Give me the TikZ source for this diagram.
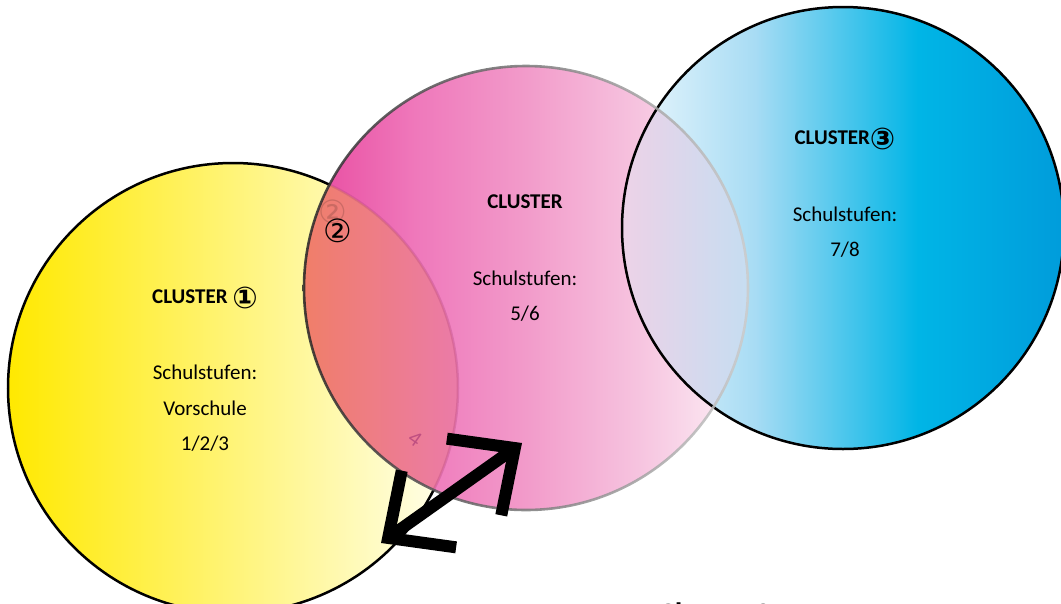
\documentclass[tikz,border=0pt]{standalone}
\usepackage{fontspec}
\setmainfont{Carlito}
\newfontfamily\symfont{DejaVu Sans}
\usetikzlibrary{positioning,arrows.meta}

\definecolor{yelL}{HTML}{FFE900}
\definecolor{yelR}{HTML}{FFFFF0}
\definecolor{pinkA}{HTML}{E84A9F}
\definecolor{pinkB}{HTML}{EF78BB}
\definecolor{pinkC}{HTML}{F29BCA}
\definecolor{pinkD}{HTML}{F6C3DF}
\definecolor{pinkE}{HTML}{FDF2F7}
\definecolor{bluA}{HTML}{EEF8FD}
\definecolor{bluB}{HTML}{A8DCF4}
\definecolor{bluC}{HTML}{00B5E6}
\definecolor{bluD}{HTML}{009CDB}
\definecolor{mixL}{HTML}{F07E68}
\definecolor{mixR}{HTML}{EB7BA8}
\definecolor{lavL}{HTML}{EDD2E7}
\definecolor{lavR}{HTML}{C6DDF1}
\definecolor{ghost}{HTML}{B0407A}

\pgfdeclarehorizontalshading{pinkshade}{100bp}{color(0bp)=(pinkA); color(25bp)=(pinkA); color(37.5bp)=(pinkB); color(50bp)=(pinkC); color(62.5bp)=(pinkD); color(75bp)=(pinkE); color(100bp)=(pinkE)}
\pgfdeclarehorizontalshading{blueshade}{100bp}{color(0bp)=(bluA); color(25bp)=(bluA); color(40bp)=(bluB); color(58.5bp)=(bluC); color(75bp)=(bluD); color(100bp)=(bluD)}

\newcommand{\cnum}[1]{\smash{\raisebox{-4.5pt}{\symfont\fontsize{30}{30}\selectfont #1}}}

\begin{document}
\begin{tikzpicture}[x=1pt,y=-1pt,node distance=36pt,
  txt/.style={font=\fontsize{21}{25}\selectfont},
  head/.style={font=\fontsize{21}{25}\selectfont\bfseries},
  circ/.style={font=\symfont\fontsize{32}{34}\selectfont},
  ring/.style={line width=2.5pt},
  dblarrow/.style={line width=12pt,{Straight Barb[length=50pt,width=94pt]}-{Straight Barb[length=50pt,width=94pt]}}]

	\useasboundingbox (0,0) rectangle (1061,603);
	\clip (0,0) rectangle (1061,603);

	% circles
	\coordinate (yel) at (233,388);
	\coordinate (pnk) at (526,288);
	\coordinate (blu) at (843,228);

	\shade[left color=yelL,right color=yelR] (yel) circle (225);
	\draw[ring] (yel) circle (225);
	\shade[shading=blueshade] (blu) circle (221);
	\shade[shading=pinkshade] (pnk) circle (222);

	% overlaps
	\begin{scope}
		\clip (yel) circle (225);
		\clip (pnk) circle (222);
		\shade[left color=mixL,right color=mixR] (302,60) rectangle (458,520);
	\end{scope}
	\begin{scope}
		\clip (blu) circle (221);
		\clip (pnk) circle (222);
		\shade[left color=lavL,right color=lavR] (622,60) rectangle (748,520);
	\end{scope}
	\begin{scope}
		\clip (pnk) circle (222);
		\draw[ring,ghost,opacity=.3] (yel) circle (225);
	\end{scope}

	\draw[ring] (blu) circle (221);
	\shade[even odd rule,left color=black!85,right color=black!20,opacity=.85]
		(pnk) circle (223.3) (pnk) circle (220.7);

	% texts
	\node (c1) [head] at (205,297) {CLUSTER \cnum{①}};
	\node (s1) [txt, below of = c1, node distance=75pt] {Schulstufen:};
	\node (v1) [txt, below of = s1] {Vorschule};
	\node (k1) [txt, below of = v1] {1/2/3};

	\node (c2) [head] at (525,202) {CLUSTER};
	\node (s2) [txt, below of = c2, node distance=76pt] {Schulstufen:};
	\node (k2) [txt, below of = s2] {5/6};

	\node (c3) [head] at (845,138) {CLUSTER\cnum{③}};
	\node (s3) [txt, below of = c3, node distance=76pt] {Schulstufen:};
	\node (k3) [txt, below of = s3] {7/8};

	\node (n2) [circ] at (338,231) {②};
	\node (g2) [circ,opacity=.15] at (333,212) {②};
	\node (g4) [font=\fontsize{22}{24}\selectfont,text=ghost,opacity=.75,rotate=-35] at (415,439) {4};

	\node (cl2) [font=\fontsize{31}{36}\selectfont\bfseries,anchor=base west] at (655,624) {Cluster 2};

	% arrow
	\coordinate (tipA) at (522,443);
	\coordinate (tipB) at (381,543);
	\draw[dblarrow] (tipB) -- (tipA);

\end{tikzpicture}
\end{document}
